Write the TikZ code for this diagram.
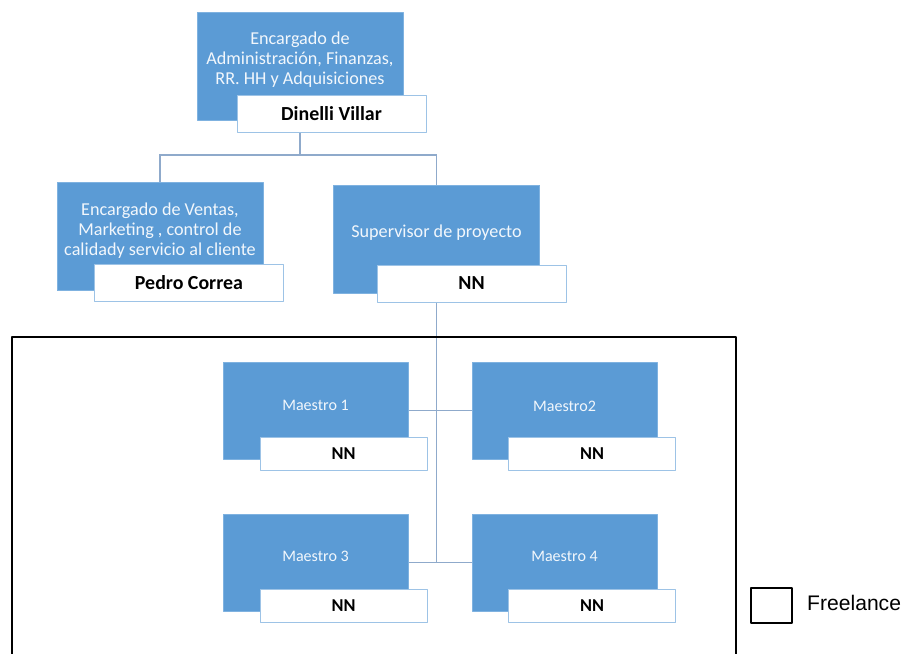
\documentclass[tikz,border=0pt]{standalone}
\usepackage{fontspec}
\setmainfont{Carlito}
\newfontfamily\legendfont{Liberation Sans}
\usetikzlibrary{backgrounds}

\definecolor{roleblue}{HTML}{5B9BD5}
\definecolor{roleedge}{HTML}{7FB2E0}
\definecolor{nameedge}{HTML}{9DC3E6}
\definecolor{linkgray}{HTML}{8FAACB}

\begin{document}
\begin{tikzpicture}[x=0.03cm,y=-0.03cm,line join=round,
  % blue box with the job title
  role/.style={fill=roleblue,draw=roleedge,line width=0.6pt,inner sep=0pt,
    minimum width=6.18cm,minimum height=3.24cm,text=white!92!roleblue,
    align=center,font=\fontsize{15.5}{17}\selectfont},
  maestro/.style={role,minimum width=5.55cm,minimum height=2.91cm,
    font=\fontsize{13.7}{16}\selectfont},
  % white box with the person's name
  person/.style={fill=white,draw=nameedge,line width=0.8pt,inner sep=0pt,
    minimum width=5.67cm,minimum height=1.11cm,font=\fontsize{17}{19}\selectfont\bfseries},
  smallperson/.style={person,minimum width=5.01cm,minimum height=0.99cm,
    font=\fontsize{15.5}{17}\selectfont\bfseries},
  link/.style={draw=linkgray,line width=1.2pt},
  frame/.style={draw=black,line width=1.5pt}]

  \useasboundingbox (0,0) rectangle (902,654);

  % freelance area
  \draw[frame] (12,337) rectangle (736,664);

  % first two levels
  \node[role] (admin) at (300,66)
    {Encargado de\\Administración, Finanzas,\\RR. HH y Adquisiciones\\[-4pt]};
  \node[person] (adminName) at (331.5,113.5) {Dinelli Villar};

  \node[role] (ventas) at (160,236.5)
    {Encargado de Ventas,\\Marketing , control de\\calidady servicio al cliente\\[-5pt]};
  \node[person] (ventasName) at (189,283) {Pedro Correa};

  \node[role] (super) at (436.5,239) {Supervisor de proyecto\\[-3pt]};
  \node[person] (superName) at (471.5,283.5) {NN};

  % the four maestros
  \node[maestro] (m1) at (315.5,410.5) {Maestro 1\\[-8pt]};
  \node[smallperson] (m1Name) at (343.5,453.5) {NN};
  \node[maestro] (m2) at (564.5,410.5) {Maestro2\\[-8pt]};
  \node[smallperson] (m2Name) at (592,453.5) {NN};
  \node[maestro] (m3) at (315.5,562.5) {Maestro 3\\[-5pt]};
  \node[smallperson] (m3Name) at (343.5,606) {NN};
  \node[maestro] (m4) at (564.5,562.5) {Maestro 4\\[-5pt]};
  \node[smallperson] (m4Name) at (592,606) {NN};

  % legend
  \node[frame,minimum width=1.23cm,minimum height=1.05cm,inner sep=0pt]
    (legend) at (771.5,605.5) {};
  \node[anchor=west,inner sep=0pt,font=\legendfont\fontsize{18}{20}\selectfont]
    (legendText) at (807,603) {Freelance};

  % connectors go behind the boxes
  \coordinate (split) at (300,155);
  \coordinate (trunk) at (436.5,563);
  \begin{scope}[on background layer]
    \draw[link] (admin) -- (split);
    \draw[link] (split) -| (ventas);
    \draw[link] (split) -| (super);
    \draw[link] (super) -- (trunk);
    \draw[link] (m1) -- (m2);
    \draw[link] (m3) -- (m4);
  \end{scope}

\end{tikzpicture}
\end{document}
